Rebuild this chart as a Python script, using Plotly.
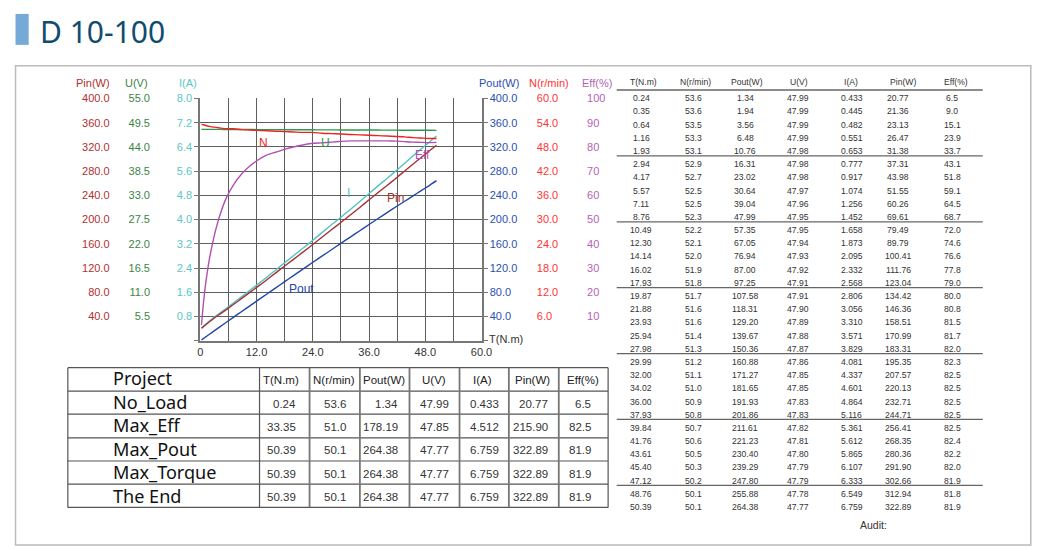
import plotly.graph_objects as go

# ---------------- data ----------------
T = [0.24, 0.35, 0.64, 1.16, 1.93, 2.94, 4.17, 5.57, 7.11, 8.76,
     10.49, 12.30, 14.14, 16.02, 17.93, 19.87, 21.88, 23.93, 25.94, 27.98,
     29.99, 32.00, 34.02, 36.00, 37.93, 39.84, 41.76, 43.61, 45.40, 47.12,
     48.76, 50.39]
N = [53.6, 53.6, 53.5, 53.3, 53.1, 52.9, 52.7, 52.5, 52.5, 52.3,
     52.2, 52.1, 52.0, 51.9, 51.8, 51.7, 51.6, 51.6, 51.4, 51.3,
     51.2, 51.1, 51.0, 50.9, 50.8, 50.7, 50.6, 50.5, 50.3, 50.2,
     50.1, 50.1]
POUT = [1.34, 1.94, 3.56, 6.48, 10.76, 16.31, 23.02, 30.64, 39.04, 47.99,
        57.35, 67.05, 76.94, 87.00, 97.25, 107.58, 118.31, 129.20, 139.67, 150.36,
        160.88, 171.27, 181.65, 191.93, 201.86, 211.61, 221.23, 230.40, 239.29, 247.80,
        255.88, 264.38]
U = [47.99, 47.99, 47.99, 47.99, 47.98, 47.98, 47.98, 47.97, 47.96, 47.95,
     47.95, 47.94, 47.93, 47.92, 47.91, 47.91, 47.90, 47.89, 47.88, 47.87,
     47.86, 47.85, 47.85, 47.83, 47.83, 47.82, 47.81, 47.80, 47.79, 47.79,
     47.78, 47.77]
I = [0.433, 0.445, 0.482, 0.551, 0.653, 0.777, 0.917, 1.074, 1.256, 1.452,
     1.658, 1.873, 2.095, 2.332, 2.568, 2.806, 3.056, 3.310, 3.571, 3.829,
     4.081, 4.337, 4.601, 4.864, 5.116, 5.361, 5.612, 5.865, 6.107, 6.333,
     6.549, 6.759]
PIN = [20.77, 21.36, 23.13, 26.47, 31.38, 37.31, 43.98, 51.55, 60.26, 69.61,
       79.49, 89.79, 100.41, 111.76, 123.04, 134.42, 146.36, 158.51, 170.99, 183.31,
       195.35, 207.57, 220.13, 232.71, 244.71, 256.41, 268.35, 280.36, 291.90, 302.66,
       312.94, 322.89]
EFF = [6.5, 9.0, 15.1, 23.9, 33.7, 43.1, 51.8, 59.1, 64.5, 68.7,
       72.0, 74.6, 76.6, 77.8, 79.0, 80.0, 80.8, 81.5, 81.7, 82.0,
       82.3, 82.5, 82.5, 82.5, 82.5, 82.5, 82.4, 82.2, 82.0, 81.9,
       81.8, 81.9]

# axis tick values
T_TICKS = [0, 6, 12, 18, 24, 30, 36, 42, 48, 54, 60]
PIN_TICKS = [0, 40, 80, 120, 160, 200, 240, 280, 320, 360, 400]
U_TICKS = [0, 5.5, 11.0, 16.5, 22.0, 27.5, 33.0, 38.5, 44.0, 49.5, 55.0]
I_TICKS = [0, 0.8, 1.6, 2.4, 3.2, 4.0, 4.8, 5.6, 6.4, 7.2, 8.0]
N_TICKS = [0, 6, 12, 18, 24, 30, 36, 42, 48, 54, 60]
EFF_TICKS = [0, 10, 20, 30, 40, 50, 60, 70, 80, 90, 100]

# summary table
SUM_NAMES = ["No_Load", "Max_Eff", "Max_Pout", "Max_Torque", "The End"]
SUM_T = [0.24, 33.35, 50.39, 50.39, 50.39]
SUM_N = [53.6, 51.0, 50.1, 50.1, 50.1]
SUM_POUT = [1.34, 178.19, 264.38, 264.38, 264.38]
SUM_U = [47.99, 47.85, 47.77, 47.77, 47.77]
SUM_I = [0.433, 4.512, 6.759, 6.759, 6.759]
SUM_PIN = [20.77, 215.90, 322.89, 322.89, 322.89]
SUM_EFF = [6.5, 82.5, 81.9, 81.9, 81.9]

# ---------------- layout helpers ----------------
W, H = 1050, 550


def X(px):
    return px / W


def Y(py):
    return 1 - py / H


PL, PR, PT, PB = 200, 485, 93.5, 338.5
DOMX = [X(PL), X(PR)]
DOMY = [Y(PB), Y(PT)]

C_PIN, C_PIN_T = "#a83030", "#b03030"
C_U, C_U_T = "#2f9a4f", "#3a8545"
C_I, C_I_T = "#52c4c4", "#5cc6c6"
C_POUT, C_POUT_T = "#2346a8", "#2a4fb0"
C_N, C_N_T = "#ee2424", "#ff3333"
C_EFF, C_EFF_T = "#b050b0", "#b462b4"
AXF = "Liberation Sans, Arial, sans-serif"
GRID = "#5e5e5e"

fig = go.Figure()


def add_curve(y, axis, color):
    fig.add_trace(go.Scatter(x=T, y=y, yaxis=axis, mode="lines",
                             line=dict(color=color, width=1.4, shape="spline", smoothing=0.6),
                             hoverinfo="skip", showlegend=False))


add_curve(I, "y", C_I)
add_curve(PIN, "y2", C_PIN)
add_curve(U, "y3", C_U)
add_curve(POUT, "y4", C_POUT)
add_curve(N, "y5", C_N)
add_curve(EFF, "y6", C_EFF)


def fmt(vals, f):
    return ["" if v == 0 else format(v, f) for v in vals]


tf = dict(family=AXF, size=11)
fig.update_layout(
    width=W, height=H, autosize=False,
    margin=dict(l=0, r=0, t=0, b=0, pad=0),
    paper_bgcolor="white", plot_bgcolor="white",
    showlegend=False,
    xaxis=dict(domain=DOMX, range=[0, 60], tickvals=T_TICKS,
               ticktext=["0", "", "12.0", "", "24.0", "", "36.0", "", "48.0", "", "60.0"],
               showgrid=True, gridcolor=GRID, gridwidth=1, zeroline=False,
               showline=True, linecolor="#777", linewidth=2, ticks="",
               tickfont=dict(tf, color="#333"), fixedrange=True),
    yaxis=dict(domain=DOMY, range=[0, 8], tickvals=I_TICKS, ticktext=fmt(I_TICKS, ".1f"),
               side="left", anchor="x", showgrid=True, gridcolor=GRID, gridwidth=1,
               zeroline=False, showline=True, linecolor="#777", linewidth=2,
               ticks="outside", ticklen=4, tickcolor="#777",
               tickfont=dict(tf, color=C_I_T), fixedrange=True),
    yaxis2=dict(range=[0, 400], overlaying="y", side="left", anchor="free", position=X(108),
                tickvals=PIN_TICKS, ticktext=fmt(PIN_TICKS, ".1f"), showgrid=False,
                zeroline=False, showline=False, ticks="",
                tickfont=dict(tf, color=C_PIN_T), fixedrange=True),
    yaxis3=dict(range=[0, 55], overlaying="y", side="left", anchor="free", position=X(149),
                tickvals=U_TICKS, ticktext=fmt(U_TICKS, ".1f"), showgrid=False,
                zeroline=False, showline=False, ticks="",
                tickfont=dict(tf, color=C_U_T), fixedrange=True),
    yaxis4=dict(range=[0, 400], overlaying="y", side="right", anchor="x",
                tickvals=PIN_TICKS, ticktext=fmt(PIN_TICKS, ".1f"), showgrid=False,
                zeroline=False, showline=True, linecolor="#777", linewidth=2,
                ticks="outside", ticklen=4, tickcolor="#777",
                tickfont=dict(tf, color=C_POUT_T), fixedrange=True),
    yaxis5=dict(range=[0, 60], overlaying="y", side="right", anchor="free", position=X(540),
                tickvals=N_TICKS, ticktext=fmt(N_TICKS, ".1f"), showgrid=False,
                zeroline=False, showline=False, ticks="",
                tickfont=dict(tf, color=C_N_T), fixedrange=True),
    yaxis6=dict(range=[0, 100], overlaying="y", side="right", anchor="free", position=X(591),
                tickvals=EFF_TICKS, ticktext=fmt(EFF_TICKS, ".0f"), showgrid=False,
                zeroline=False, showline=False, ticks="",
                tickfont=dict(tf, color=C_EFF_T), fixedrange=True),
)

ann = []
shapes = []


def text(x, y, s, size, color, family=AXF, xanchor="center", align="center"):
    ann.append(dict(x=X(x), y=Y(y), xref="paper", yref="paper", text=s, showarrow=False,
                    xanchor=xanchor, yanchor="middle", align=align,
                    font=dict(family=family, size=size, color=color)))


def line(x0, y0, x1, y1, color, width):
    shapes.append(dict(type="line", xref="paper", yref="paper", x0=X(x0), y0=Y(y0),
                       x1=X(x1), y1=Y(y1), line=dict(color=color, width=width)))


# title + frame
shapes.append(dict(type="rect", xref="paper", yref="paper", x0=X(12.7), x1=X(26), y0=Y(39.3), y1=Y(8),
                   fillcolor="#74a9d8", line=dict(width=0)))
text(35, 25.5, "D 10-100", 30, "#0f4c6e", family="Noto Sans, Open Sans, sans-serif", xanchor="left")
shapes.append(dict(type="rect", xref="paper", yref="paper", x0=X(12.7), x1=X(1041.7), y0=Y(545), y1=Y(60.3),
                   line=dict(color="#bbbbbb", width=1.5), fillcolor="rgba(0,0,0,0)"))

# axis titles
text(91.3, 78, "Pin(W)", 11, C_PIN_T)
text(135, 78, "U(V)", 11, C_U_T)
text(188, 78, "I(A)", 11, C_I_T)
text(503, 78, "Pout(W)", 11, C_POUT_T)
text(553, 78, "N(r/min)", 11, C_N_T)
text(602, 78, "Eff(%)", 11, C_EFF_T)
text(510, 337, "T(N.m)", 11, "#333")

# curve labels
text(264, 139, "N", 12, C_N)
text(326.7, 139, "U", 12, C_U)
text(425, 151, "Eff", 12, C_EFF)
text(350, 189.3, "I", 12, C_I)
text(398, 194, "Pin", 12, C_PIN)
text(302.7, 286, "Pout", 12, C_POUT)

# ---------------- right data table ----------------
hdr = ["T(N.m)", "N(r/min)", "Pout(W)", "U(V)", "I(A)", "Pin(W)", "Eff(%)"]
hdr_x = [649.5, 702, 754.5, 807, 859.7, 911.7, 965.5]
col_x = [647, 700, 752.5, 806, 860, 907.5, 962]
cols = [(T, ".2f"), (N, ".1f"), (POUT, ".2f"), (U, ".2f"), (I, ".3f"), (PIN, ".2f"), (EFF, ".1f")]
TF = 8.6
for hx, h in zip(hdr_x, hdr):
    text(hx, 77.3, h, TF, "#333")
for (vals, f), cx in zip(cols, col_x):
    for r, v in enumerate(vals):
        text(cx, 93.3 + r * 13.33, format(v, f), TF, "#333")
line(622, 85, 993, 85, "#666", 1.5)
for k in range(1, 7):
    yy = 85 + k * 66.6
    line(622, yy, 993, yy, "#666", 1.3)
text(882.7, 524.3, "Audit:", 10.5, "#333")

# ---------------- summary table ----------------
hl = [365.7, 389.3, 412.7, 436.7, 460, 483.3, 507]
vl = [65.7, 260, 310.7, 361.7, 412, 462.7, 512.7, 563.3, 613.3]
for yy in hl:
    line(65.7, yy, 613.3, yy, "#555", 1.2)
for i, xx in enumerate(vl):
    line(xx, 365.7, xx, 507, "#555" if i in (0, 1, 8) else "#777", 1.2 if i in (0, 1, 8) else 1.8)

NF = "Noto Sans, Open Sans, sans-serif"
# row names as one multi-line block (line pitch = 1.3 * font size = row height)
text(109, 436.2, "<br>".join(["Project"] + SUM_NAMES), 18.08, "#111", family=NF,
     xanchor="left", align="left")

s_hdr_x = [281.5, 335.5, 385.8, 436.7, 486, 537, 588]
for hx, h in zip(s_hdr_x, hdr):
    text(hx, 378.3, h, 11.5, "#222")

sum_cols = [(SUM_T, ".2f", 299.3, "right"), (SUM_N, ".1f", 336.2, "center"),
            (SUM_POUT, ".2f", 402.3, "right"), (SUM_U, ".2f", 437.3, "center"),
            (SUM_I, ".3f", 487.7, "center"), (SUM_PIN, ".2f", 554.7, "right"),
            (SUM_EFF, ".1f", 598.3, "right")]
for vals, f, cx, anc in sum_cols:
    for r, v in enumerate(vals):
        text(cx, 402.3 + r * 23.5, format(v, f), 11.5, "#333", xanchor=anc)

fig.update_layout(annotations=ann, shapes=shapes)
fig.write_html("out.html", config={"displayModeBar": False},
               post_script="document.body.style.margin='0';document.body.style.overflow='hidden';")
